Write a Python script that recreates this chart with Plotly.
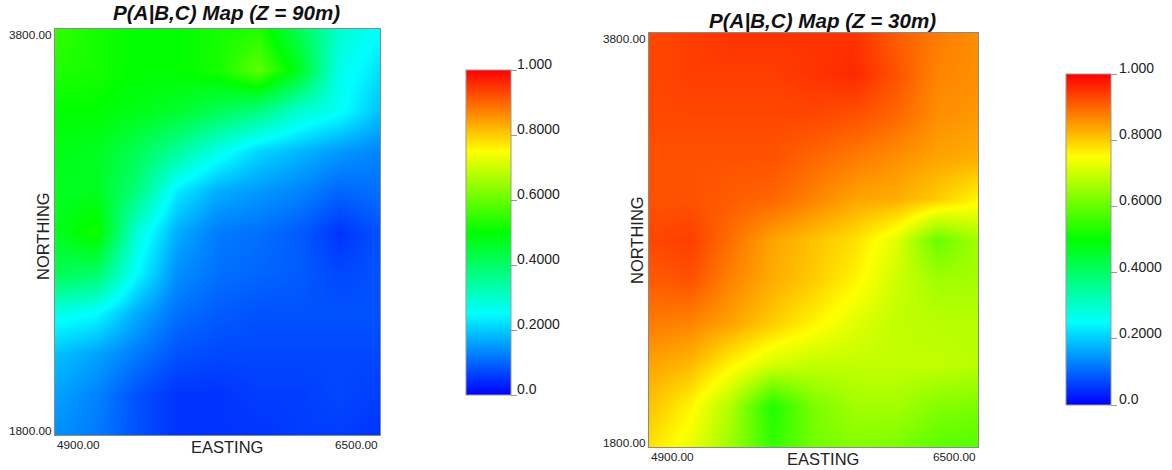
import plotly.graph_objects as go

W, H = 1172, 470
FONT = "Liberation Sans"

easting = [4900, 5100, 5300, 5500, 5700, 5900, 6100, 6300, 6500]
northing = [3800, 3600, 3400, 3200, 3000, 2800, 2600, 2400, 2200, 2000, 1800]

p_90 = [
    [.55, .52, .50, .50, .52, .53, .42, .30, .25],
    [.53, .52, .50, .50, .52, .59, .47, .27, .22],
    [.50, .50, .48, .46, .42, .38, .30, .26, .19],
    [.48, .47, .42, .35, .27, .21, .18, .15, .13],
    [.47, .47, .38, .23, .17, .15, .13, .10, .11],
    [.47, .52, .29, .17, .12, .11, .09, .05, .08],
    [.42, .40, .25, .14, .11, .10, .09, .07, .08],
    [.27, .25, .17, .11, .09, .08, .08, .08, .08],
    [.19, .16, .12, .08, .07, .07, .07, .07, .07],
    [.16, .13, .08, .05, .05, .06, .06, .07, .06],
    [.14, .12, .08, .05, .05, .05, .06, .06, .05],
]
p_30 = [
    [.93, .94, .95, .95, .95, .95, .91, .88, .86],
    [.93, .94, .94, .94, .95, .96, .92, .87, .86],
    [.93, .93, .93, .93, .93, .92, .90, .86, .85],
    [.92, .92, .92, .92, .90, .88, .86, .84, .83],
    [.92, .92, .91, .90, .87, .84, .83, .80, .76],
    [.93, .94, .89, .84, .81, .78, .72, .60, .66],
    [.91, .92, .87, .83, .80, .76, .70, .66, .66],
    [.88, .87, .84, .80, .76, .72, .69, .68, .68],
    [.84, .82, .76, .71, .69, .69, .69, .69, .68],
    [.81, .76, .67, .53, .62, .66, .66, .63, .62],
    [.78, .73, .65, .55, .61, .63, .62, .59, .58],
]

colorbar_ticks = [0, .2, .4, .6, .8, 1]
colorbar_labels = ["0.0", "0.2000", "0.4000", "0.6000", "0.8000", "1.000"]
rainbow = [[0, "#0000ff"], [.25, "#00ffff"], [.5, "#00ff00"], [.75, "#ffff00"], [1, "#ff0000"]]
titles = ["<b><i>P(A|B,C) Map (Z = 90m)</i></b>", "<b><i>P(A|B,C) Map (Z = 30m)</i></b>"]
title_shift = [5, 1]
bars = [(466, 70, 395), (1066, 74, 405)]
BAR_W = 45


def cbar(x_px, top_px, bottom_px):
    return dict(
        x=x_px / W, xanchor="left", xref="paper", xpad=0,
        y=1 - bottom_px / H, yanchor="bottom", yref="paper", ypad=0,
        len=(bottom_px - top_px) / H, lenmode="fraction",
        thickness=BAR_W, thicknessmode="pixels",
        tickmode="array", tickvals=colorbar_ticks, ticktext=[""] * len(colorbar_ticks),
        ticks="outside", ticklen=6, tickcolor="#999999", tickwidth=1,
        outlinecolor="#999999", outlinewidth=1, borderwidth=0,
    )


fig = go.Figure()
fig.add_trace(go.Heatmap(x=easting, y=northing, z=p_90, zmin=0, zmax=1, zsmooth="best",
                         colorscale=rainbow, colorbar=cbar(*bars[0]), xaxis="x", yaxis="y"))
fig.add_trace(go.Heatmap(x=easting, y=northing, z=p_30, zmin=0, zmax=1, zsmooth="best",
                         colorscale=rainbow, colorbar=cbar(*bars[1]), xaxis="x2", yaxis="y2"))


def axis(domain, rng, anchor):
    return dict(
        domain=domain, range=rng, anchor=anchor, showgrid=False, zeroline=False, ticks="",
        showticklabels=False, showline=True, mirror=True, linecolor="#8a8a8a", linewidth=1,
    )


fig.update_layout(
    width=W, height=H, margin=dict(l=0, r=0, t=0, b=0),
    paper_bgcolor="white", plot_bgcolor="white",
    xaxis=axis([55 / W, 380 / W], [4900, 6500], "y"),
    yaxis=axis([1 - 435 / H, 1 - 29 / H], [1800, 3800], "x"),
    xaxis2=axis([649 / W, 978 / W], [4900, 6500], "y2"),
    yaxis2=axis([1 - 447 / H, 1 - 33 / H], [1800, 3800], "x2"),
)

tick_font = dict(family=FONT, size=11.8, color="#222222")
label_font = dict(family=FONT, size=16.5, color="#222222")
bar_font = dict(family=FONT, size=14, color="#222222")
for i, (xr, yr) in enumerate([("x", "y"), ("x2", "y2")]):
    fig.add_annotation(x=.5, y=1, xref=f"{xr} domain", yref=f"{yr} domain", text=titles[i],
                       showarrow=False, yanchor="bottom", yshift=title_shift[i] - 2, xshift=9,
                       font=dict(family=FONT, size=20.6, color="#111111"))
    fig.add_annotation(x=.5, y=0, xref=f"{xr} domain", yref=f"{yr} domain", text="EASTING",
                       showarrow=False, yanchor="top", xshift=9, yshift=-1, font=label_font)
    fig.add_annotation(x=0, y=.5, xref=f"{xr} domain", yref=f"{yr} domain", text="NORTHING",
                       showarrow=False, textangle=-90, xanchor="right", yshift=-4 + i * 4, xshift=-1,
                       font=label_font)
    fig.add_annotation(x=easting[0], y=northing[-1], xref=xr, yref=yr, text="4900.00", showarrow=False,
                       xanchor="left", yanchor="top", font=tick_font, yshift=-1)
    fig.add_annotation(x=easting[-1], y=northing[-1], xref=xr, yref=yr, text="6500.00", showarrow=False,
                       xanchor="right", yanchor="top", font=tick_font, yshift=-1)
    fig.add_annotation(x=easting[0], y=northing[0], xref=xr, yref=yr, text="3800.00", showarrow=False,
                       xanchor="right", yanchor="top", font=tick_font, xshift=-1, yshift=3)
    fig.add_annotation(x=easting[0], y=northing[-1], xref=xr, yref=yr, text="1800.00", showarrow=False,
                       xanchor="right", yanchor="bottom", font=tick_font, xshift=-1, yshift=-5)
    bx, bt, bb = bars[i]
    for tv, tl in zip(colorbar_ticks, colorbar_labels):
        fig.add_annotation(x=(bx + BAR_W + 4 + 2 * i) / W, xref="paper", xanchor="left", showarrow=False,
                           y=1 - (bb - tv * (bb - bt)) / H, yref="paper", yanchor="middle", yshift=6,
                           text=tl, font=bar_font)

fig.write_html("out.html", config={"displayModeBar": False},
               post_script="document.body.style.margin='0';")
